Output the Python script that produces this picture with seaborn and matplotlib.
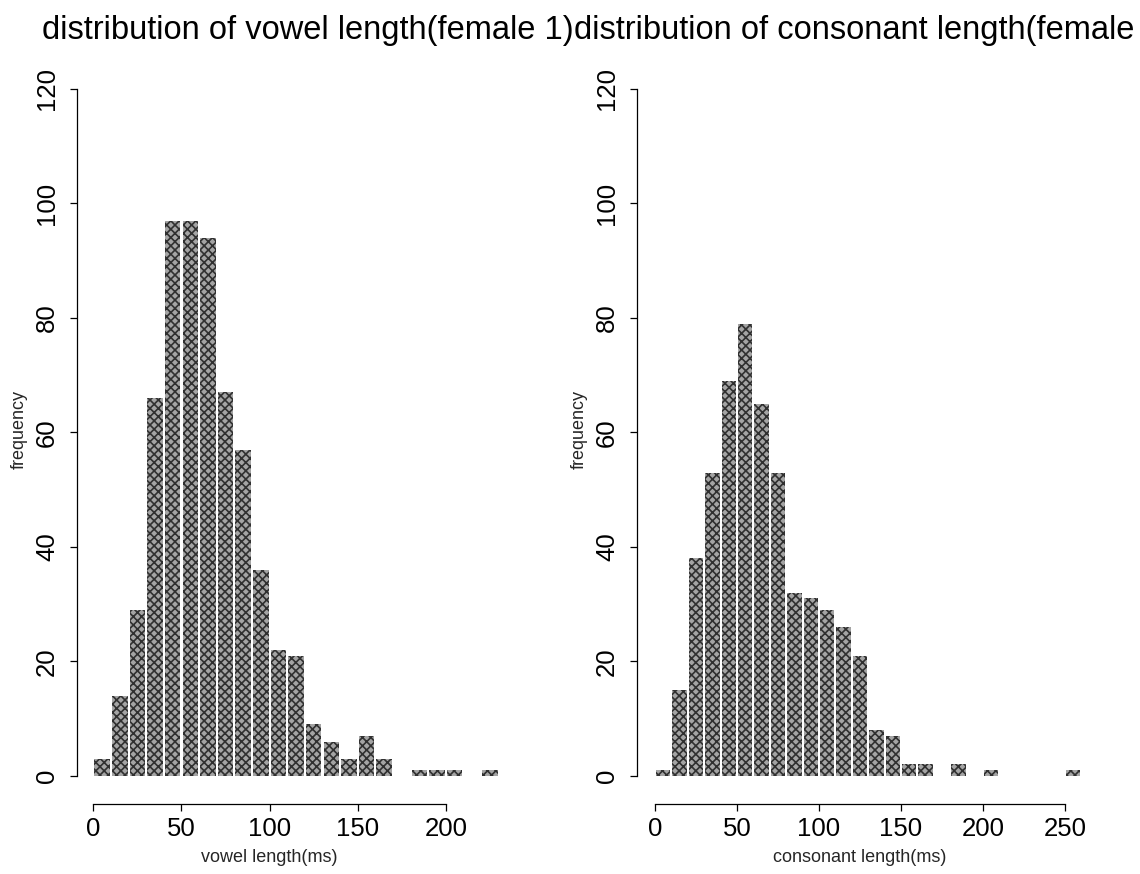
import matplotlib
matplotlib.use("Agg")
import matplotlib.pyplot as plt
import numpy as np
import pandas as pd
import seaborn as sns

# ---------------- data ----------------
vowel_bin_edges = list(range(0, 240, 10))          # 0..230 ms, 10 ms bins
vowel_counts = [3, 14, 29, 66, 97, 97, 94, 67, 57, 36, 22, 21, 9, 6, 3, 7, 3, 0, 1, 1, 1, 0, 1]

consonant_bin_edges = list(range(0, 270, 10))      # 0..260 ms, 10 ms bins
consonant_counts = [1, 15, 38, 53, 69, 79, 65, 53, 32, 31, 29, 26, 21, 8, 7, 2, 2, 0, 2, 0, 1, 0, 0, 0, 0, 1]

y_ticks = [0, 20, 40, 60, 80, 100, 120]
vowel_x_ticks = [0, 50, 100, 150, 200]
consonant_x_ticks = [0, 50, 100, 150, 200, 250]

titles = ["distribution of vowel length(female 1)",
          "distribution of consonant length(female 1)"]
x_labels = ["vowel length(ms)", "consonant length(ms)"]
y_label = "frequency"

# ---------------- style ----------------
sns.set_style("white")
plt.rcParams["font.family"] = ["Liberation Sans", "DejaVu Sans"]
plt.rcParams["hatch.linewidth"] = 1.2

W, H = 1140, 874
fig = plt.figure(figsize=(W / 100, H / 100), dpi=100)


def px_axes(x0, x1, y_top, y_bottom):
    return fig.add_axes([x0 / W, 1 - y_bottom / H, (x1 - x0) / W, (y_bottom - y_top) / H])


panels = [
    dict(edges=vowel_bin_edges, counts=vowel_counts, xticks=vowel_x_ticks,
         box=(77, 507.6), xlim=(-9.25, 235), title_x=42, xlabel=x_labels[0], title=titles[0]),
    dict(edges=consonant_bin_edges, counts=consonant_counts, xticks=consonant_x_ticks,
         box=(637, 1084.7), xlim=(-10.98, 262), title_x=574, xlabel=x_labels[1], title=titles[1]),
]

Y_TOP, Y_BOT = 80.4, 804
YLIM = (-4.9, 121.5)

for p in panels:
    ax = px_axes(p["box"][0], p["box"][1], Y_TOP, Y_BOT)
    edges = [float(e) for e in p["edges"]]
    centers = [(a + b) / 2 for a, b in zip(edges[:-1], edges[1:])]
    df = pd.DataFrame({"length": centers, "count": p["counts"]})
    sns.histplot(data=df, x="length", weights="count", bins=edges, shrink=0.88, ax=ax,
                 color="#a4a4a4", edgecolor="#303030", linewidth=0, hatch="xxxx",
                 alpha=1.0)
    ax.set_xlim(*p["xlim"])
    ax.set_ylim(*YLIM)

    for s in ("top", "right"):
        ax.spines[s].set_visible(False)
    for s in ("left", "bottom"):
        ax.spines[s].set_color("black")
        ax.spines[s].set_linewidth(0.9)
    ax.spines["left"].set_bounds(y_ticks[0], y_ticks[-1])
    ax.spines["bottom"].set_bounds(p["xticks"][0], p["xticks"][-1])

    ax.set_xticks(p["xticks"])
    ax.set_xticklabels([str(t) for t in p["xticks"]])
    ax.set_yticks(y_ticks)
    ax.set_yticklabels([str(t) for t in y_ticks], rotation=90, va="center")
    ax.tick_params(axis="both", which="major", direction="out", length=5, width=0.9,
                   labelsize=18.5, colors="black", bottom=True, left=True)
    ax.tick_params(axis="y", pad=8)
    ax.tick_params(axis="x", pad=4)

    width_px = p["box"][1] - p["box"][0]
    height_px = Y_BOT - Y_TOP
    ax.set_ylabel(y_label, fontsize=13)
    ax.yaxis.set_label_coords((28 - 77) / width_px, 0.517)
    ax.set_xlabel(p["xlabel"], fontsize=13)
    xmid = (p["xticks"][0] + p["xticks"][-1]) / 2
    xmid_ax = (xmid - p["xlim"][0]) / (p["xlim"][1] - p["xlim"][0])
    ax.xaxis.set_label_coords(xmid_ax, -(849 - Y_BOT) / height_px)
    ax.grid(False)

    fig.text(p["title_x"] / W, 1 - 30 / H, p["title"], fontsize=23.5,
             ha="left", va="center", color="black")

fig.savefig("out.png", dpi=100, facecolor="white")
